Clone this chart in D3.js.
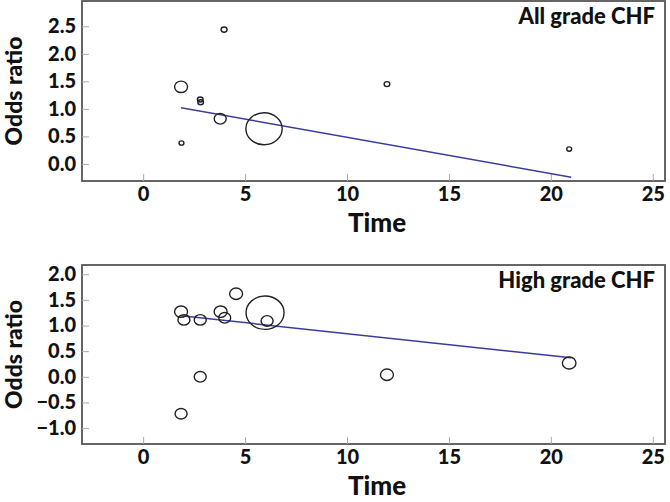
<!DOCTYPE html>
<html><head><meta charset="utf-8">
<script src="https://cdn.jsdelivr.net/npm/d3@7"></script>
<style>
body{margin:0;background:#fff;}
text{font-family:Lato, "DejaVu Sans", sans-serif;font-weight:900;fill:#111;}
</style></head>
<body><svg id="c" width="670" height="502"></svg>
<script>
// Top panel: All grade CHF
const allTime   = [1.86, 1.88, 2.8, 2.82, 3.97, 3.78, 5.93, 11.96, 20.9];
const allOR     = [1.40, 0.38, 1.17, 1.12, 2.44, 0.82, 0.64, 1.45, 0.27];
const allWeight = [42, 6, 8, 8, 9, 36, 330, 8, 6];
const allFit    = {time:[1.86, 21.0], or:[1.02, -0.24]};

// Bottom panel: High grade CHF
const highTime   = [1.86, 2.0, 2.8, 3.8, 4.0, 4.56, 5.98, 6.08, 2.8, 1.86, 11.96, 20.9];
const highOR     = [1.27, 1.11, 1.11, 1.27, 1.15, 1.62, 1.25, 1.09, 0.0, -0.72, 0.04, 0.27];
const highWeight = [42, 36, 36, 42, 36, 42, 361, 36, 36, 36, 42, 46];
const highFit    = {time:[1.86, 21.0], or:[1.19, 0.37]};

const xTicks = [0, 5, 10, 15, 20, 25];
const yTicksTop = [0.0, 0.5, 1.0, 1.5, 2.0, 2.5];
const yTicksBottom = [-1.0, -0.5, 0.0, 0.5, 1.0, 1.5, 2.0];

const svg = d3.select("#c");
const rScale = d3.scaleSqrt().domain([0, 361]).range([0, 19]);

function styleText(sel, size){
  sel.attr("font-size",size).style("font-family","Lato").style("font-weight","900").attr("fill","#111");
}

function panel(cfg){
  const g = svg.append("g");
  const x = d3.scaleLinear().domain([-3.0, 25.6]).range([82, 665]);
  const y = d3.scaleLinear().domain(cfg.ydom).range([cfg.bottom, cfg.top]);
  g.append("rect").attr("x",82).attr("y",cfg.top).attr("width",583).attr("height",cfg.bottom-cfg.top)
    .attr("fill","none").attr("stroke","#555").attr("stroke-width",1.8);
  const xa = g.append("g").attr("transform",`translate(0,${cfg.bottom})`)
    .call(d3.axisTop(x).tickValues(xTicks).tickSize(7).tickFormat(""));
  xa.select(".domain").remove();
  xa.selectAll("line").attr("stroke","#aaa");
  const xl = g.append("g").attr("transform",`translate(0,${cfg.bottom})`)
    .call(d3.axisBottom(x).tickValues(xTicks).tickSize(0).tickPadding(6).tickFormat(d3.format("d")));
  xl.select(".domain").remove();
  styleText(xl.selectAll("text"), 20);
  const ya = g.append("g").attr("transform",`translate(82,0)`)
    .call(d3.axisRight(y).tickValues(cfg.yticks).tickSize(7).tickFormat(""));
  ya.select(".domain").remove();
  ya.selectAll("line").attr("stroke","#aaa");
  const yl = g.append("g").attr("transform",`translate(82,0)`)
    .call(d3.axisLeft(y).tickValues(cfg.yticks).tickSize(0).tickPadding(6).tickFormat(d=>d3.format(".1f")(d).replace("-","\u2212")));
  yl.select(".domain").remove();
  styleText(yl.selectAll("text"), 20);
  g.append("line").attr("x1",x(cfg.fit.time[0])).attr("y1",y(cfg.fit.or[0]))
    .attr("x2",x(cfg.fit.time[1])).attr("y2",y(cfg.fit.or[1]))
    .attr("stroke","#3a3c9c").attr("stroke-width",1.5);
  const data = cfg.t.map((t,i)=>({t, o:cfg.o[i], w:cfg.w[i]}));
  g.selectAll("ellipse.b").data(data).join("ellipse").attr("class","b")
    .attr("cx",d=>x(d.t)).attr("cy",d=>y(d.o))
    .attr("rx",d=>rScale(d.w)).attr("ry",d=>rScale(d.w)*0.88)
    .attr("fill","none").attr("stroke","#222").attr("stroke-width",1.4);
  g.append("text").attr("x",655).attr("y",cfg.top+23).attr("text-anchor","end")
    .attr("font-size",22).text(cfg.title);
  g.append("text").attr("x",377).attr("y",cfg.bottom+51).attr("text-anchor","middle")
    .attr("font-size",26).text("Time");
  g.append("text").attr("transform",`translate(22,${(cfg.top+cfg.bottom)/2}) rotate(-90)`)
    .attr("text-anchor","middle").attr("font-size",23).text("Odds ratio");
}

panel({top:1, bottom:181, ydom:[-0.31, 2.96], yticks:yTicksTop, fit:allFit,
  t:allTime, o:allOR, w:allWeight, title:"All grade CHF"});
panel({top:265, bottom:444, ydom:[-1.31, 2.18], yticks:yTicksBottom, fit:highFit,
  t:highTime, o:highOR, w:highWeight, title:"High grade CHF"});
</script></body></html>
